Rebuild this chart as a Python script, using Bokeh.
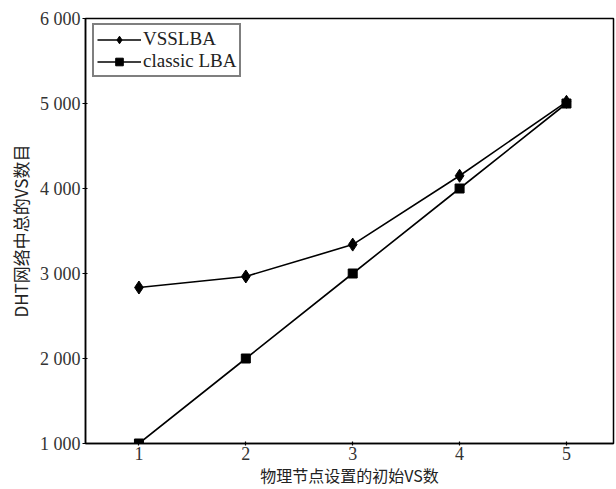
from bokeh.plotting import figure
from bokeh.models import CustomJSTickFormatter, Legend, LegendItem, FixedTicker, Range1d
from bokeh.embed import file_html
from bokeh.resources import INLINE

x_vals = [1, 2, 3, 4, 5]
vsslba = [2835, 2965, 3340, 4150, 5020]
classic = [1000, 2000, 3000, 4000, 5000]
x_ticks = [1, 2, 3, 4, 5]
y_ticks = [1000, 2000, 3000, 4000, 5000, 6000]
names = ["VSSLBA", "classic LBA"]
x_label = "物理节点设置的初始VS数"
y_label = "DHT网络中总的VS数目"

p = figure(width=616, height=489, output_backend="svg", toolbar_location=None,
           x_range=Range1d(0.5, 5.44), y_range=Range1d(1000, 6000),
           min_border_left=85, min_border_right=3, min_border_top=18, min_border_bottom=46)
p.xgrid.visible = False
p.ygrid.visible = False
p.outline_line_color = "black"
p.outline_line_width = 1.5
p.background_fill_color = "white"
p.border_fill_color = "white"

l1 = p.line(x_vals, vsslba, line_color="black", line_width=1.6)
m1 = p.scatter(x_vals, vsslba, marker="diamond", size=13, fill_color="black", line_color="black")
l2 = p.line(x_vals, classic, line_color="black", line_width=1.6)
m2 = p.scatter(x_vals, classic, marker="square", size=9, fill_color="black", line_color="black")

legend = Legend(items=[LegendItem(label=names[0], renderers=[l1, m1]),
                       LegendItem(label=names[1], renderers=[l2, m2])],
                location=(7, 366))
legend.border_line_color = "black"
legend.border_line_width = 2
legend.label_text_font = "Liberation Serif"
legend.label_text_font_size = "19px"
legend.label_text_color = "#222222"
legend.glyph_width = 44
legend.glyph_height = 19
legend.label_standoff = 2
legend.padding = 3
legend.spacing = 0
legend.margin = 0
legend.label_height = 19
p.add_layout(legend, "center")

for ax in (p.xaxis[0], p.yaxis[0]):
    ax.axis_line_color = "black"
    ax.axis_line_width = 1.5
    ax.major_tick_line_color = "black"
    ax.major_tick_line_width = 1.2
    ax.major_tick_out = 2
    ax.major_tick_in = 2
    ax.minor_tick_line_color = None
    ax.major_label_text_font = "Liberation Serif"
    ax.major_label_text_font_size = "18px"
    ax.major_label_text_color = "#333333"
    ax.axis_label_text_font = "Noto Sans CJK SC"
    ax.axis_label_text_font_size = "16px"
    ax.axis_label_text_font_style = "normal"
    ax.axis_label_text_color = "#222222"

p.yaxis[0].axis_label_text_font_size = "17px"
p.yaxis[0].major_tick_out = 3
p.xaxis[0].ticker = FixedTicker(ticks=x_ticks)
p.yaxis[0].ticker = FixedTicker(ticks=y_ticks)
p.yaxis[0].formatter = CustomJSTickFormatter(
    code="return tick.toFixed(0).replace(/\\B(?=(\\d{3})+(?!\\d))/g, ' ');")
p.xaxis[0].axis_label = x_label
p.yaxis[0].axis_label = y_label
p.xaxis[0].major_label_standoff = 1
p.yaxis[0].major_label_standoff = 2
p.xaxis[0].axis_label_standoff = 0
p.yaxis[0].axis_label_standoff = 4

open("out.html", "w").write(file_html(p, INLINE))
